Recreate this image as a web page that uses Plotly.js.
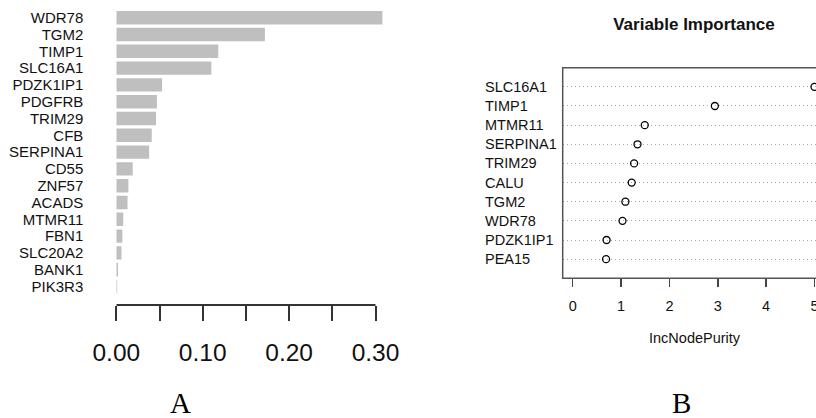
<!DOCTYPE html>
<html>
<head>
<meta charset="utf-8">
<script src="https://cdn.plot.ly/plotly-3.0.1.min.js"></script>
<style>html,body{margin:0;padding:0;background:#fff}#chart{width:816px;height:418px}</style>
</head>
<body>
<div id="chart"></div>
<script>
// Panel A: importance bars
const genesA = ["WDR78","TGM2","TIMP1","SLC16A1","PDZK1IP1","PDGFRB","TRIM29","CFB","SERPINA1","CD55","ZNF57","ACADS","MTMR11","FBN1","SLC20A2","BANK1","PIK3R3"];
const valuesA = [0.308,0.172,0.118,0.110,0.053,0.047,0.046,0.041,0.038,0.019,0.014,0.013,0.008,0.007,0.006,0.002,0.001];
const ticksA = [0, 0.1, 0.2, 0.3];
const tickLabelsA = ["0.00","0.10","0.20","0.30"];

// Panel B: variable importance dot chart
const genesB = ["SLC16A1","TIMP1","MTMR11","SERPINA1","TRIM29","CALU","TGM2","WDR78","PDZK1IP1","PEA15"];
const valuesB = [5.00,2.94,1.49,1.34,1.27,1.22,1.09,1.03,0.70,0.69];
const ticksB = [0,1,2,3,4,5];

const W = 816, H = 418;
const px = v => v / W;
const py = v => 1 - v / H;
const SANS = '"Liberation Sans", Arial, sans-serif';
const SERIF = '"Liberation Serif", "Times New Roman", serif';

const traces = [
  {
    type: 'bar', orientation: 'h', x: valuesA, y: genesA,
    xaxis: 'x', yaxis: 'y',
    marker: {color: '#bfbfbf', line: {width: 0}},
    width: 0.8, hoverinfo: 'x+y'
  },
  {
    type: 'scatter', mode: 'markers', x: valuesB, y: genesB,
    xaxis: 'x2', yaxis: 'y2',
    marker: {symbol: 'circle-open', size: 7, color: '#000', line: {width: 1.3, color: '#000'}},
    cliponaxis: false, hoverinfo: 'x+y'
  }
];

const annotations = genesB.map(g => ({
  text: g, x: px(483.3), xref: 'paper', xanchor: 'left',
  y: g, yref: 'y2', yanchor: 'middle', showarrow: false,
  font: {family: SANS, size: 14.5, color: '#111'}
}));
annotations.push(
  {text: 'IncNodePurity', x: px(695), y: py(337.7), xref: 'paper', yref: 'paper', xanchor: 'center', yanchor: 'middle', showarrow: false, font: {family: SANS, size: 14.5, color: '#111'}},
  {text: 'A', x: px(180), y: py(403), xref: 'paper', yref: 'paper', xanchor: 'center', yanchor: 'middle', showarrow: false, font: {family: SERIF, size: 29, color: '#000'}},
  {text: 'B', x: px(681.7), y: py(403), xref: 'paper', yref: 'paper', xanchor: 'center', yanchor: 'middle', showarrow: false, font: {family: SERIF, size: 29, color: '#000'}}
);

const rowA = 16.8, topA = 17.7, domBotA = 305;
const y0A = -topA / rowA;
const y1A = y0A + domBotA / rowA;

const layout = {
  width: W, height: H,
  margin: {l: 0, r: 0, t: 0, b: 0},
  paper_bgcolor: '#fff', plot_bgcolor: 'rgba(0,0,0,0)',
  showlegend: false,
  font: {family: SANS, color: '#111'},
  title: {
    text: 'Variable Importance', x: px(694), xref: 'paper', xanchor: 'center',
    y: 1 - 24 / H, yref: 'container', yanchor: 'middle',
    font: {family: SANS, size: 17, weight: 'bold', color: '#111'}
  },
  xaxis: {
    domain: [px(116.3), px(390)], range: [0, (390 - 116.3) / 864],
    anchor: 'y', showgrid: false, zeroline: false, showline: false,
    tickvals: ticksA, ticktext: tickLabelsA,
    ticks: 'outside', ticklen: 15, tickwidth: 2, tickcolor: '#333',
    minor: {dtick: 0.05, tick0: 0, ticks: 'outside', ticklen: 15, tickwidth: 2, tickcolor: '#333', showgrid: false},
    tickfont: {family: SANS, size: 24.5, color: '#111'}, ticklabelstandoff: 11
  },
  yaxis: {
    domain: [py(domBotA), 1], range: [y1A, y0A], type: 'category',
    tickmode: 'array', tickvals: genesA,
    anchor: 'x', showgrid: false, zeroline: false, showline: false, ticks: '',
    tickfont: {family: SANS, size: 15, color: '#111'}, ticklabelstandoff: 32
  },
  xaxis2: {
    domain: [px(562.7), 1], range: [-0.207, -0.207 + (W - 562.7) / 48.35],
    anchor: 'y2', showgrid: false, zeroline: false, showline: false,
    tickvals: ticksB, ticks: 'outside', ticklen: 8, tickwidth: 1.5, tickcolor: '#444',
    ticklabeloverflow: 'allow',
    tickfont: {family: SANS, size: 14.5, color: '#111'}, ticklabelstandoff: 6
  },
  yaxis2: {
    domain: [py(278.3), py(67.7)], range: [genesB.length, -1], type: 'category',
    tickmode: 'array', tickvals: genesB,
    anchor: 'x2', showgrid: true, griddash: '1px,3px', gridcolor: '#a8a8a8', gridwidth: 1,
    zeroline: false, showline: false, ticks: '', showticklabels: false
  },
  shapes: [
    {type: 'line', xref: 'x', yref: 'paper', x0: 0, x1: 0.30, y0: py(305), y1: py(305), line: {color: '#333', width: 2}},
    {type: 'rect', xref: 'paper', yref: 'paper', x0: px(562.7), x1: px(830), y0: py(278.3), y1: py(67.7), line: {color: '#555', width: 1.5}, fillcolor: 'rgba(0,0,0,0)'}
  ],
  annotations: annotations
};

Plotly.newPlot('chart', traces, layout, {displayModeBar: false, staticPlot: true});
</script>
</body>
</html>
